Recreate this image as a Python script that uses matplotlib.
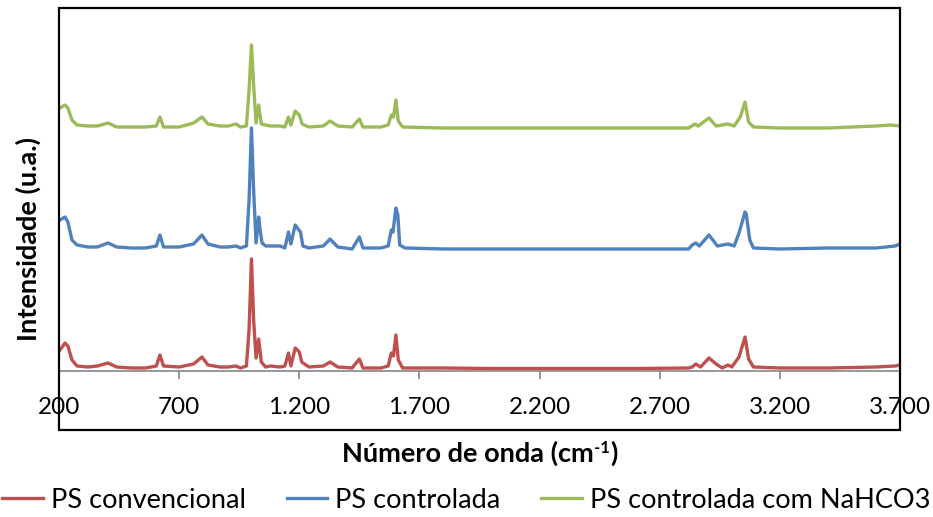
import matplotlib
matplotlib.use('Agg')
import numpy as np
from matplotlib import pyplot as plt
from matplotlib.patches import Rectangle
from matplotlib.ticker import FuncFormatter

plt.rcParams['font.family'] = ['Lato', 'DejaVu Sans']

# Raman spectra (wavenumber, intensity u.a.)
wn_conv = [204, 225, 237, 254, 275, 320, 360, 404, 440, 500, 560, 605, 620, 635, 700, 760, 795, 820,
           870, 905, 937, 955, 980, 991, 1001, 1010, 1020, 1031, 1042, 1060, 1080, 1120, 1140, 1155,
           1165, 1183, 1200, 1210, 1240, 1300, 1328, 1360, 1420, 1450, 1465, 1540, 1570, 1583, 1592,
           1602, 1612, 1630, 1800, 2000, 2300, 2600, 2820, 2835, 2850, 2870, 2905, 2935, 2960, 2984,
           3000, 3030, 3055, 3070, 3090, 3200, 3400, 3600, 3680, 3700]
int_conv = [21, 28, 25, 11, 5, 4, 5, 8, 4, 3, 3, 5, 16, 5, 4, 7, 14, 6,
            4, 4, 5, 3, 5, 41, 112, 51, 13, 32, 9, 4, 5, 4, 5, 18,
            5, 23, 19, 9, 4, 5, 9, 4, 3, 12, 3, 3, 5, 18, 15,
            36, 11, 3, 3, 2.5, 2.5, 2.5, 3, 4, 7, 4, 13, 7, 3, 6,
            4, 14, 34, 12, 4, 3, 3, 4, 5, 6]

wn_ctrl = [204, 225, 237, 254, 275, 320, 360, 404, 440, 500, 560, 605, 620, 635, 700, 760, 795, 820,
           870, 905, 937, 955, 980, 991, 1001, 1010, 1020, 1031, 1037, 1045, 1060, 1080, 1120, 1140,
           1155, 1165, 1183, 1195, 1205, 1215, 1240, 1300, 1328, 1360, 1420, 1450, 1465, 1540, 1570,
           1583, 1590, 1602, 1610, 1618, 1640, 1800, 2200, 2600, 2820, 2835, 2850, 2865, 2905, 2940,
           2984, 3010, 3030, 3055, 3060, 3075, 3090, 3200, 3400, 3600, 3680, 3700]
int_ctrl = [31, 34, 29, 11, 6, 4, 4, 8, 4, 3, 3, 5, 16, 4, 4, 7, 16, 7,
            4, 4, 5, 3, 5, 51, 123, 61, 8, 34, 21, 8, 5, 5, 5, 3,
            19, 7, 26, 22, 19, 5, 3, 5, 12, 4, 2, 14, 3, 3, 5,
            21, 19, 43, 36, 6, 3, 2, 2, 2, 2, 6, 8, 5, 16, 5,
            7, 5, 18, 39, 37, 11, 3, 2, 3, 3, 5, 7]

wn_nahco3 = [204, 225, 237, 254, 275, 320, 360, 404, 440, 500, 560, 605, 620, 635, 700, 760, 795, 820,
             870, 905, 937, 955, 980, 991, 1001, 1010, 1020, 1031, 1042, 1060, 1080, 1120, 1140, 1155,
             1165, 1183, 1200, 1212, 1240, 1300, 1328, 1360, 1420, 1450, 1465, 1540, 1570, 1583, 1592,
             1602, 1612, 1630, 1800, 2200, 2600, 2820, 2847, 2860, 2905, 2935, 2984, 3010, 3035, 3055,
             3070, 3090, 3200, 3400, 3600, 3660, 3700]
int_nahco3 = [23, 26, 23, 11, 6, 5, 5, 8, 4, 4, 4, 5, 14, 4, 4, 8, 14, 7,
              5, 5, 7, 4, 5, 41, 86, 46, 8, 26, 7, 6, 5, 5, 4, 14,
              6, 20, 16, 7, 4, 5, 10, 5, 4, 12, 4, 4, 6, 16, 14,
              31, 10, 4, 3, 3, 3, 3, 7, 5, 13, 5, 7, 5, 14, 29,
              9, 4, 3, 3, 5, 6, 5]

labels = ['PS convencional', 'PS controlada', 'PS controlada com NaHCO3']
colors = ['#C0504D', '#4F81BD', '#9BBB59']
offsets = [0, 120, 240]
xticks = [200, 700, 1200, 1700, 2200, 2700, 3200, 3700]

fig = plt.figure(figsize=(9.33, 5.17), dpi=100)
ax = fig.add_axes([59/933, 1-371/517, 841/933, 363/517])

series = [(wn_conv, int_conv), (wn_ctrl, int_ctrl), (wn_nahco3, int_nahco3)]
for (x, y), lab, c, off in zip(series, labels, colors, offsets):
    ax.plot(x, np.array(y) + off, color=c, lw=2.4, label=lab, solid_joinstyle='round')

ax.set_xlim(200, 3700)
ax.set_ylim(0, 363)
ax.set_xticks(xticks)
ax.xaxis.set_major_formatter(FuncFormatter(lambda v, p: f'{int(v):,}'.replace(',', '.')))
ax.set_yticks([])
for s in ['left', 'top', 'right']:
    ax.spines[s].set_visible(False)
ax.spines['bottom'].set_color('#868686')
ax.spines['bottom'].set_linewidth(1.2)
ax.tick_params(axis='x', direction='out', length=6, width=1.2, color='#868686',
               labelsize=17.5, pad=13, labelcolor='black')

# outer border of the plot area (encloses the tick labels)
fig.patches.append(Rectangle((59/933, 1-430/517), 841/933, 422/517, transform=fig.transFigure,
                             fill=False, edgecolor='black', lw=1.6))

# x label with a plain "-1" superscript
fig.canvas.draw()
r = fig.canvas.get_renderer()
ybase = 1 - 462/517
parts = [fig.text(0, ybase, 'Número de onda (cm', fontsize=19.5, fontweight='bold', va='baseline'),
         fig.text(0, ybase + 9/517, '-1', fontsize=12, fontweight='bold', va='baseline'),
         fig.text(0, ybase, ')', fontsize=19.5, fontweight='bold', va='baseline')]
widths = [p.get_window_extent(r).width for p in parts]
x0 = 480 - sum(widths) / 2
for p, w in zip(parts, widths):
    p.set_x(x0 / 933)
    x0 += w

fig.text(28/933, 1-239/517, 'Intensidade (u.a.)', ha='center', va='center', rotation=90,
         fontsize=19.5, fontweight='bold')

fig.legend(loc='center', bbox_to_anchor=(0.5, 1-500/517), ncol=3, frameon=False, fontsize=19.5,
           handlelength=1.5, columnspacing=1.5, handletextpad=0.3)

fig.savefig('out.png', dpi=100)
